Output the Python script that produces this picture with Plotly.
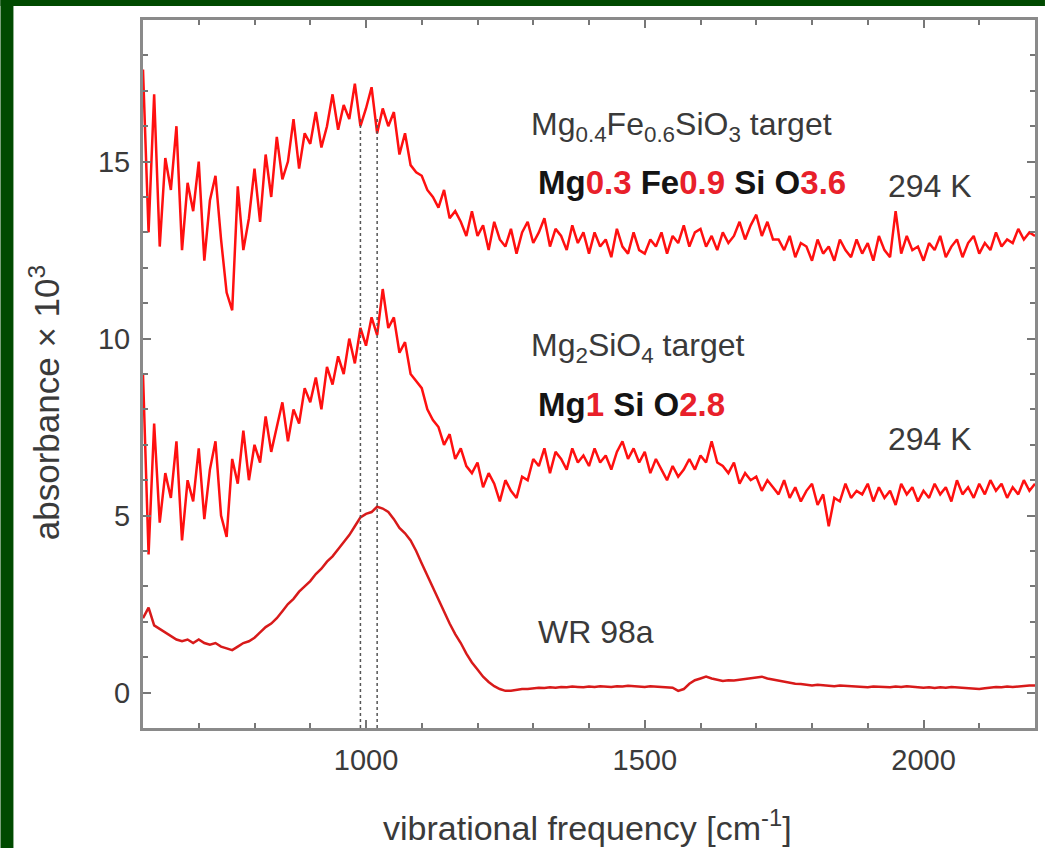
import plotly.graph_objects as go

# sampling grid of the spectra (cm^-1)
wavenumber = list(range(600, 2201, 10))

# Mg0.4Fe0.6SiO3 target spectrum (absorbance x 10^3)
mgfe_sio3 = [
    17.6, 13.0, 16.9, 12.6, 15.1, 14.2, 16.0, 12.5, 14.4, 13.6,
    15.0, 12.2, 13.9, 14.6, 12.8, 11.3, 10.8, 14.3, 12.5, 13.4,
    14.8, 13.3, 15.2, 14.0, 15.7, 14.5, 15.0, 16.2, 14.8, 15.8,
    15.5, 16.4, 15.4, 16.0, 16.9, 15.9, 16.6, 16.2, 17.2, 16.0,
    16.5, 17.1, 15.8, 16.5, 16.0, 16.4, 15.2, 15.8, 14.9, 14.7,
    14.6, 14.2, 14.0, 13.7, 14.2, 13.4, 13.6, 13.3, 12.9, 13.6,
    12.9, 13.2, 12.5, 13.3, 12.8, 12.6, 13.1, 12.4, 13.0, 13.3,
    12.7, 13.0, 13.4, 12.6, 13.1, 12.9, 12.5, 13.2, 12.7, 13.0,
    12.4, 13.0, 12.6, 12.8, 12.3, 13.1, 12.6, 12.4, 13.0, 12.5,
    12.4, 12.8, 12.6, 13.0, 12.4, 12.9, 12.7, 13.2, 12.6, 13.0,
    13.1, 12.6, 12.9, 12.5, 13.0, 12.7, 12.9, 13.3, 12.8, 13.2,
    13.5, 12.9, 13.3, 12.8, 12.8, 12.5, 12.9, 12.3, 12.7, 12.6,
    12.2, 12.8, 12.4, 12.6, 12.2, 12.8, 12.5, 12.3, 12.8, 12.4,
    12.7, 12.2, 12.9, 12.5, 12.3, 13.6, 12.4, 12.9, 12.5, 12.6,
    12.2, 12.7, 12.5, 12.9, 12.3, 12.6, 12.8, 12.3, 12.7, 12.9,
    12.4, 12.7, 12.5, 13.0, 12.6, 12.8, 12.7, 13.1, 12.8, 13.0,
    12.9,
]

# Mg2SiO4 target spectrum
mg2_sio4 = [
    9.0, 3.9, 7.6, 4.8, 6.2, 5.5, 7.1, 4.3, 6.0, 5.4,
    6.9, 4.9, 6.3, 7.1, 5.0, 4.4, 6.6, 5.9, 7.4, 6.0,
    7.0, 6.5, 7.8, 6.8, 7.5, 8.2, 7.1, 8.0, 7.6, 8.6,
    8.2, 8.9, 8.0, 9.2, 8.7, 9.5, 9.0, 10.0, 9.3, 10.3,
    9.8, 10.6, 10.1, 11.4, 10.3, 10.6, 9.6, 9.9, 9.0, 8.8,
    8.6, 8.0, 7.7, 7.5, 7.0, 7.3, 6.6, 6.9, 6.4, 6.2,
    6.5, 5.8, 6.2, 5.9, 5.4, 6.0, 5.7, 5.5, 6.1, 6.0,
    6.6, 6.4, 6.9, 6.2, 6.8, 6.6, 6.3, 6.9, 6.5, 6.7,
    6.4, 6.9, 6.5, 6.7, 6.3, 6.8, 7.1, 6.6, 6.9, 6.5,
    6.8, 6.2, 6.6, 6.3, 6.0, 6.4, 6.1, 6.3, 6.6, 6.3,
    6.7, 6.5, 7.1, 6.5, 6.4, 6.2, 6.5, 5.9, 6.2, 6.0,
    6.1, 5.7, 6.0, 5.8, 5.6, 6.0, 5.5, 5.8, 5.4, 5.7,
    5.9, 5.3, 5.6, 4.7, 5.5, 5.4, 5.9, 5.5, 5.7, 5.6,
    5.9, 5.4, 5.8, 5.5, 5.7, 5.3, 5.9, 5.6, 5.8, 5.4,
    5.7, 5.5, 5.9, 5.6, 5.8, 5.4, 6.0, 5.6, 5.8, 5.5,
    5.9, 5.6, 6.0, 5.7, 5.9, 5.5, 5.8, 5.6, 6.0, 5.7,
    5.9,
]

# WR 98a spectrum
wr98a = [
    2.1, 2.4, 1.9, 1.8, 1.7, 1.6, 1.5, 1.45, 1.5, 1.4,
    1.5, 1.4, 1.35, 1.4, 1.3, 1.25, 1.2, 1.3, 1.4, 1.45,
    1.55, 1.7, 1.85, 1.95, 2.1, 2.3, 2.5, 2.65, 2.85, 3.0,
    3.15, 3.35, 3.5, 3.7, 3.85, 4.05, 4.25, 4.45, 4.7, 4.95,
    5.05, 5.1, 5.25, 5.2, 5.1, 4.9, 4.65, 4.5, 4.3, 4.0,
    3.65, 3.3, 2.95, 2.6, 2.25, 1.95, 1.65, 1.4, 1.1, 0.85,
    0.65, 0.45, 0.3, 0.18, 0.1, 0.05, 0.05, 0.08, 0.1, 0.1,
    0.12, 0.14, 0.13, 0.15, 0.14, 0.16, 0.15, 0.17, 0.16, 0.15,
    0.17, 0.16, 0.18, 0.17, 0.16, 0.18, 0.17, 0.19, 0.18, 0.17,
    0.16, 0.18, 0.17, 0.15, 0.16, 0.14, 0.05, 0.1, 0.25, 0.35,
    0.4, 0.45, 0.4, 0.36, 0.33, 0.35, 0.34, 0.36, 0.38, 0.4,
    0.42, 0.45, 0.4, 0.37, 0.33, 0.3, 0.28, 0.25, 0.24, 0.22,
    0.2, 0.22, 0.2, 0.19, 0.18, 0.2, 0.19, 0.17, 0.18, 0.16,
    0.15, 0.17, 0.16, 0.14, 0.15, 0.17, 0.16, 0.18, 0.16, 0.15,
    0.14, 0.15, 0.13, 0.15, 0.14, 0.16, 0.15, 0.13, 0.14, 0.12,
    0.1, 0.12, 0.14, 0.16, 0.15, 0.17, 0.16, 0.18, 0.19, 0.2,
    0.2,
]

# dotted reference lines (cm^-1) and their top end (absorbance)
ref_lines = [990, 1020]
ref_line_tops = [16.2, 16.2]

x_range = [600, 2200]
y_range = [-1, 19]
x_ticks = [1000, 1500, 2000]
y_ticks = [0, 5, 10, 15]

TXT = "#3a3a3a"
RED = "#ff1010"
GREEN = "#004a00"
FONT = "Liberation Sans, Arial, sans-serif"
ANN = 32

W, H = 1048, 848
ML, MR, MT, MB = 143, 10, 20, 120
pw, ph = W - ML - MR, H - MT - MB

fig = go.Figure()
fig.add_trace(go.Scatter(x=wavenumber, y=mgfe_sio3, mode="lines",
                         line=dict(color=RED, width=2.5), hoverinfo="skip"))
fig.add_trace(go.Scatter(x=wavenumber, y=mg2_sio4, mode="lines",
                         line=dict(color=RED, width=2.5), hoverinfo="skip"))
fig.add_trace(go.Scatter(x=wavenumber, y=wr98a, mode="lines",
                         line=dict(color="#d81a1a", width=2.5), hoverinfo="skip"))

shapes = [
    # dark green frame strips (left and top) around the white page
    dict(type="rect", xref="paper", yref="paper",
         x0=(0 - ML) / pw, x1=(13 - ML) / pw,
         y0=(MB - H) / ph + 1 - (MB / ph) * 0, y1=1 + MT / ph,
         fillcolor=GREEN, line=dict(width=0), layer="below"),
    dict(type="rect", xref="paper", yref="paper",
         x0=(0 - ML) / pw, x1=(W - ML) / pw,
         y0=1 + (MT - 6) / ph, y1=1 + MT / ph,
         fillcolor=GREEN, line=dict(width=0), layer="below"),
]
shapes[0]["y0"] = -MB / ph
for xv, top in zip(ref_lines, ref_line_tops):
    shapes.append(dict(type="line", xref="x", yref="y", x0=xv, x1=xv,
                       y0=y_range[0], y1=top,
                       line=dict(color="#555555", width=1.5, dash="dot")))

red_span = "<span style='color:#e8202a'>%s</span>"
annotations = [
    dict(x=1293, y=16.0, text="Mg<sub>0.4</sub>Fe<sub>0.6</sub>SiO<sub>3</sub> target",
         font=dict(size=ANN, color=TXT)),
    dict(x=1305, y=14.4,
         text="<b>Mg" + red_span % "0.3" + " Fe" + red_span % "0.9" + " Si O" + red_span % "3.6" + "</b>",
         font=dict(size=33, color="#141414")),
    dict(x=1932, y=14.3, text="294 K", font=dict(size=ANN, color=TXT)),
    dict(x=1293, y=9.75, text="Mg<sub>2</sub>SiO<sub>4</sub> target",
         font=dict(size=ANN, color=TXT)),
    dict(x=1305, y=8.15,
         text="<b>Mg" + red_span % "1" + " Si O" + red_span % "2.8" + "</b>",
         font=dict(size=33, color="#141414")),
    dict(x=1932, y=7.15, text="294 K", font=dict(size=ANN, color=TXT)),
    dict(x=1305, y=1.7, text="WR 98a", font=dict(size=ANN, color=TXT)),
]
for a in annotations:
    a.update(xref="x", yref="y", xanchor="left", yanchor="middle", showarrow=False)

# axis titles
annotations.append(dict(xref="paper", yref="paper", x=0.498, y=-0.138,
                        text="vibrational frequency [cm<sup>-1</sup>]",
                        xanchor="center", yanchor="middle", showarrow=False,
                        font=dict(size=34, color=TXT)))
annotations.append(dict(xref="paper", yref="paper", x=-0.11, y=0.46,
                        text="absorbance × 10<sup>3</sup>", textangle=-90,
                        xanchor="center", yanchor="middle", showarrow=False,
                        font=dict(size=35, color=TXT)))

axis_common = dict(showline=True, linecolor="#8a8a8a", linewidth=3, mirror="allticks",
                   ticks="inside", ticklen=8, tickwidth=2, tickcolor="#777777",
                   showgrid=False, zeroline=False,
                   tickfont=dict(size=29, color=TXT, family=FONT))

fig.update_xaxes(range=x_range, tickvals=x_ticks, ticklabelstandoff=4,
                 minor=dict(ticks="inside", dtick=100, tick0=0, ticklen=5,
                            tickwidth=2, tickcolor="#777777"),
                 **axis_common)
fig.update_yaxes(range=y_range, tickvals=y_ticks, ticklabelstandoff=4,
                 minor=dict(ticks="inside", dtick=1, tick0=0, ticklen=5,
                            tickwidth=2, tickcolor="#777777"),
                 **axis_common)

fig.update_layout(
    width=W, height=H,
    margin=dict(l=ML, r=MR, t=MT, b=MB),
    paper_bgcolor="white", plot_bgcolor="white",
    showlegend=False,
    font=dict(family=FONT, color=TXT),
    shapes=shapes, annotations=annotations,
)

fig.write_html("out.html")
